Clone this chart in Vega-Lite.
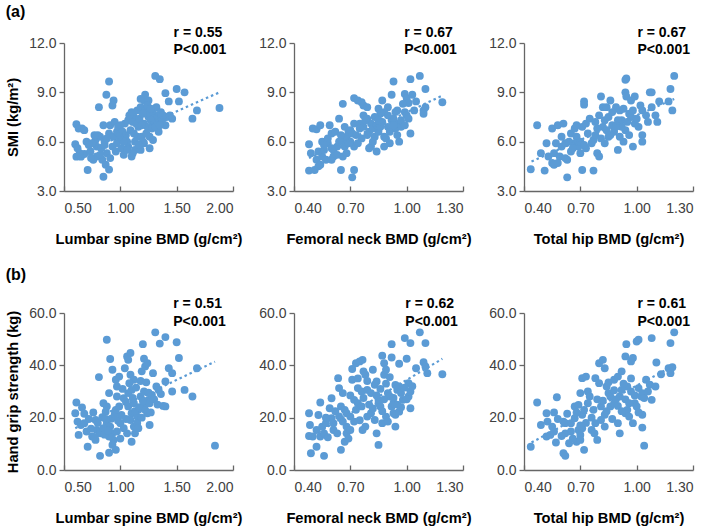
{
"$schema": "https://vega.github.io/schema/vega-lite/v6.json",
"padding": {"left": 5, "top": 3, "right": 2, "bottom": 2},
"config": {
 "font": "Liberation Sans",
 "view": {"stroke": null},
 "axis": {"grid": false, "labelFont": "Liberation Sans", "labelFontSize": 14, "labelColor": "#404040", "titleFont": "Liberation Sans", "titleFontSize": 14.7, "titleFontWeight": "bold", "titleColor": "#000000", "domainColor": "#666666", "domainWidth": 1.3, "tickColor": "#666666", "tickWidth": 1.3},
 "axisX": {"tickSize": -5, "labelPadding": 15, "titlePadding": 16},
 "axisY": {"tickSize": 5, "labelPadding": 3, "titlePadding": 8},
 "title": {"font": "Liberation Sans", "fontSize": 16, "fontWeight": "bold", "anchor": "start", "frame": "bounds", "offset": 4, "color": "#000000"},
 "circle": {"size": 62, "opacity": 1, "color": "#5B9BD5"},
 "line": {"strokeDash": [2.5, 3], "strokeWidth": 2.2, "color": "#5B9BD5"},
 "text": {"align": "left", "baseline": "middle", "fontWeight": "bold", "fontSize": 14, "font": "Liberation Sans", "color": "#000000"}
},
"datasets": {
 "p1": [{"x":0.61,"y":7.06},{"x":0.63,"y":6.8},{"x":0.66,"y":6.8},{"x":0.60,"y":5.84},{"x":0.61,"y":5.09},{"x":0.65,"y":5.09},{"x":0.68,"y":5.25},{"x":0.71,"y":4.28},{"x":0.70,"y":6.0},{"x":0.735,"y":5.4},{"x":0.76,"y":4.9},{"x":0.79,"y":5.1},{"x":0.78,"y":6.1},{"x":0.82,"y":6.3},{"x":0.79,"y":5.7},{"x":0.84,"y":4.9},{"x":0.85,"y":3.87},{"x":0.87,"y":4.6},{"x":0.90,"y":4.3},{"x":0.876,"y":8.85},{"x":0.90,"y":9.66},{"x":0.94,"y":8.5},{"x":0.93,"y":8.2},{"x":0.81,"y":8.1},{"x":0.85,"y":7.0},{"x":0.91,"y":7.0},{"x":0.90,"y":6.5},{"x":0.94,"y":6.3},{"x":0.97,"y":6.6},{"x":0.93,"y":5.7},{"x":0.97,"y":5.9},{"x":0.88,"y":5.3},{"x":0.91,"y":5.0},{"x":1.01,"y":5.6},{"x":1.01,"y":6.2},{"x":1.03,"y":5.2},{"x":1.07,"y":5.7},{"x":1.10,"y":5.1},{"x":1.04,"y":7.1},{"x":1.07,"y":7.3},{"x":1.09,"y":6.7},{"x":1.12,"y":7.5},{"x":1.15,"y":7.9},{"x":1.18,"y":8.1},{"x":1.12,"y":6.5},{"x":1.15,"y":6.3},{"x":1.16,"y":6.9},{"x":1.19,"y":6.3},{"x":1.21,"y":5.9},{"x":1.18,"y":5.5},{"x":1.13,"y":5.5},{"x":1.21,"y":8.5},{"x":1.22,"y":8.85},{"x":1.25,"y":8.5},{"x":1.22,"y":7.9},{"x":1.25,"y":7.5},{"x":1.26,"y":7.7},{"x":1.21,"y":7.1},{"x":1.24,"y":6.9},{"x":1.29,"y":7.1},{"x":1.26,"y":6.3},{"x":1.29,"y":6.1},{"x":1.26,"y":5.6},{"x":1.31,"y":10.0},{"x":1.35,"y":9.8},{"x":1.32,"y":8.1},{"x":1.29,"y":7.8},{"x":1.34,"y":7.6},{"x":1.34,"y":6.6},{"x":1.40,"y":8.95},{"x":1.43,"y":8.45},{"x":1.41,"y":7.5},{"x":1.40,"y":7.0},{"x":1.46,"y":7.4},{"x":1.50,"y":9.2},{"x":1.52,"y":8.45},{"x":1.57,"y":9.0},{"x":1.64,"y":7.4},{"x":1.68,"y":7.9},{"x":1.88,"y":8.05},{"x":0.68,"y":6.7},{"x":0.75,"y":5.9},{"x":0.80,"y":6.4},{"x":0.83,"y":5.6},{"x":0.86,"y":6.0},{"x":0.88,"y":6.2},{"x":0.95,"y":7.2},{"x":0.98,"y":6.9},{"x":1.00,"y":7.0},{"x":1.02,"y":6.6},{"x":1.05,"y":6.4},{"x":1.06,"y":6.0},{"x":1.08,"y":7.6},{"x":1.10,"y":7.8},{"x":1.11,"y":7.2},{"x":1.13,"y":6.0},{"x":1.14,"y":7.1},{"x":1.17,"y":7.4},{"x":1.18,"y":8.6},{"x":1.20,"y":7.7},{"x":1.23,"y":6.5},{"x":1.24,"y":8.2},{"x":1.27,"y":8.0},{"x":1.28,"y":6.8},{"x":1.30,"y":7.4},{"x":1.31,"y":6.9},{"x":1.33,"y":7.2},{"x":1.36,"y":7.8},{"x":1.37,"y":7.3},{"x":1.20,"y":6.0},{"x":1.16,"y":5.8},{"x":1.03,"y":6.0},{"x":0.96,"y":5.4},{"x":0.86,"y":5.8},{"x":0.77,"y":6.4},{"x":0.72,"y":5.8},{"x":0.64,"y":5.3},{"x":0.62,"y":5.6},{"x":0.74,"y":5.0},{"x":0.82,"y":5.2},{"x":1.11,"y":5.3},{"x":1.06,"y":5.5},{"x":0.99,"y":6.3},{"x":1.27,"y":7.3},{"x":1.19,"y":7.0},{"x":1.35,"y":7.0},{"x":1.44,"y":7.6},{"x":1.38,"y":7.6}],
 "p2": [{"x":0.48,"y":4.24},{"x":0.48,"y":5.84},{"x":0.49,"y":5.3},{"x":0.50,"y":6.8},{"x":0.52,"y":6.75},{"x":0.54,"y":7.0},{"x":0.51,"y":4.28},{"x":0.53,"y":4.5},{"x":0.52,"y":4.9},{"x":0.55,"y":5.1},{"x":0.57,"y":4.9},{"x":0.53,"y":5.4},{"x":0.56,"y":5.5},{"x":0.55,"y":6.0},{"x":0.58,"y":5.9},{"x":0.60,"y":6.5},{"x":0.59,"y":7.0},{"x":0.60,"y":4.9},{"x":0.61,"y":5.1},{"x":0.61,"y":5.5},{"x":0.63,"y":5.7},{"x":0.64,"y":7.4},{"x":0.66,"y":8.3},{"x":0.65,"y":4.28},{"x":0.66,"y":5.1},{"x":0.68,"y":5.3},{"x":0.66,"y":6.1},{"x":0.68,"y":6.3},{"x":0.67,"y":5.7},{"x":0.67,"y":6.9},{"x":0.69,"y":6.6},{"x":0.71,"y":3.83},{"x":0.72,"y":4.28},{"x":0.72,"y":5.7},{"x":0.71,"y":6.5},{"x":0.72,"y":7.1},{"x":0.75,"y":7.1},{"x":0.72,"y":8.65},{"x":0.74,"y":8.5},{"x":0.76,"y":8.4},{"x":0.77,"y":8.2},{"x":0.79,"y":8.1},{"x":0.77,"y":7.6},{"x":0.79,"y":7.4},{"x":0.77,"y":6.9},{"x":0.80,"y":6.6},{"x":0.81,"y":7.1},{"x":0.81,"y":5.7},{"x":0.84,"y":5.4},{"x":0.83,"y":6.3},{"x":0.85,"y":6.6},{"x":0.85,"y":8.0},{"x":0.86,"y":7.7},{"x":0.87,"y":8.5},{"x":0.88,"y":6.3},{"x":0.88,"y":5.7},{"x":0.90,"y":6.9},{"x":0.92,"y":7.3},{"x":0.91,"y":6.6},{"x":0.92,"y":8.85},{"x":0.90,"y":8.1},{"x":0.93,"y":9.66},{"x":0.93,"y":7.4},{"x":0.94,"y":6.8},{"x":0.95,"y":7.9},{"x":0.96,"y":7.1},{"x":0.97,"y":6.9},{"x":0.96,"y":6.0},{"x":0.99,"y":8.9},{"x":1.00,"y":8.65},{"x":0.99,"y":7.8},{"x":1.00,"y":7.6},{"x":1.01,"y":7.4},{"x":1.02,"y":9.8},{"x":1.02,"y":6.5},{"x":1.01,"y":8.35},{"x":1.03,"y":8.85},{"x":1.05,"y":8.45},{"x":1.07,"y":10.0},{"x":1.09,"y":7.9},{"x":1.10,"y":8.1},{"x":1.10,"y":9.2},{"x":1.09,"y":7.7},{"x":1.19,"y":8.4},{"x":0.58,"y":6.2},{"x":0.62,"y":6.6},{"x":0.64,"y":6.0},{"x":0.70,"y":6.0},{"x":0.73,"y":6.4},{"x":0.74,"y":5.9},{"x":0.76,"y":6.2},{"x":0.78,"y":7.3},{"x":0.79,"y":6.4},{"x":0.82,"y":6.8},{"x":0.83,"y":7.5},{"x":0.84,"y":7.0},{"x":0.86,"y":6.9},{"x":0.87,"y":7.2},{"x":0.88,"y":7.8},{"x":0.89,"y":6.2},{"x":0.90,"y":7.6},{"x":0.91,"y":5.9},{"x":0.92,"y":6.9},{"x":0.94,"y":7.8},{"x":0.95,"y":6.4},{"x":0.97,"y":7.3},{"x":0.98,"y":8.3},{"x":0.99,"y":7.0},{"x":0.82,"y":6.0},{"x":0.80,"y":5.6},{"x":0.75,"y":6.8},{"x":0.69,"y":5.9},{"x":0.63,"y":5.2},{"x":0.56,"y":5.8},{"x":0.54,"y":4.6},{"x":0.60,"y":5.6},{"x":0.65,"y":6.4},{"x":0.70,"y":6.7},{"x":0.85,"y":7.3},{"x":0.93,"y":7.0},{"x":1.04,"y":7.9}],
 "p3": [{"x":0.436,"y":4.32},{"x":0.47,"y":7.0},{"x":0.49,"y":5.3},{"x":0.52,"y":5.9},{"x":0.51,"y":4.24},{"x":0.53,"y":5.1},{"x":0.55,"y":4.7},{"x":0.56,"y":4.6},{"x":0.55,"y":6.8},{"x":0.58,"y":7.0},{"x":0.61,"y":7.1},{"x":0.56,"y":5.3},{"x":0.59,"y":5.1},{"x":0.60,"y":5.7},{"x":0.62,"y":5.9},{"x":0.63,"y":3.83},{"x":0.63,"y":4.9},{"x":0.65,"y":5.4},{"x":0.65,"y":6.5},{"x":0.67,"y":6.8},{"x":0.68,"y":6.3},{"x":0.67,"y":5.9},{"x":0.69,"y":5.7},{"x":0.70,"y":6.0},{"x":0.71,"y":4.28},{"x":0.72,"y":8.45},{"x":0.72,"y":8.25},{"x":0.71,"y":6.9},{"x":0.73,"y":7.1},{"x":0.70,"y":5.3},{"x":0.73,"y":5.6},{"x":0.75,"y":7.4},{"x":0.77,"y":4.24},{"x":0.77,"y":6.1},{"x":0.78,"y":6.4},{"x":0.79,"y":5.3},{"x":0.80,"y":5.1},{"x":0.81,"y":8.75},{"x":0.82,"y":8.1},{"x":0.82,"y":6.9},{"x":0.83,"y":7.3},{"x":0.85,"y":7.5},{"x":0.83,"y":5.9},{"x":0.85,"y":6.3},{"x":0.86,"y":8.5},{"x":0.87,"y":7.0},{"x":0.88,"y":6.6},{"x":0.89,"y":8.1},{"x":0.91,"y":7.9},{"x":0.90,"y":5.5},{"x":0.92,"y":7.3},{"x":0.92,"y":6.9},{"x":0.94,"y":6.7},{"x":0.93,"y":6.0},{"x":0.94,"y":9.76},{"x":0.945,"y":9.84},{"x":0.94,"y":9.0},{"x":0.945,"y":8.75},{"x":0.96,"y":7.7},{"x":0.97,"y":7.5},{"x":0.98,"y":5.7},{"x":0.97,"y":8.5},{"x":0.99,"y":8.75},{"x":0.99,"y":7.1},{"x":1.01,"y":6.9},{"x":1.03,"y":6.4},{"x":1.03,"y":6.0},{"x":1.03,"y":7.9},{"x":1.05,"y":7.6},{"x":1.07,"y":9.0},{"x":1.08,"y":9.0},{"x":1.08,"y":8.1},{"x":1.10,"y":7.6},{"x":1.11,"y":7.2},{"x":1.12,"y":8.45},{"x":1.17,"y":8.45},{"x":1.18,"y":9.2},{"x":1.19,"y":7.9},{"x":1.20,"y":10.0},{"x":0.57,"y":5.9},{"x":0.60,"y":6.3},{"x":0.64,"y":6.0},{"x":0.68,"y":7.0},{"x":0.74,"y":6.5},{"x":0.76,"y":5.9},{"x":0.79,"y":6.8},{"x":0.80,"y":7.6},{"x":0.81,"y":6.2},{"x":0.84,"y":6.7},{"x":0.86,"y":6.4},{"x":0.87,"y":7.8},{"x":0.89,"y":6.9},{"x":0.90,"y":7.3},{"x":0.91,"y":6.3},{"x":0.93,"y":8.0},{"x":0.95,"y":7.2},{"x":0.96,"y":6.4},{"x":0.98,"y":7.9},{"x":1.00,"y":7.4},{"x":1.02,"y":8.2},{"x":1.06,"y":7.2},{"x":0.84,"y":8.1},{"x":0.78,"y":7.2},{"x":0.72,"y":5.8},{"x":0.66,"y":5.6},{"x":0.62,"y":5.0},{"x":0.58,"y":4.7}],
 "p4": [{"x":0.61,"y":25.8},{"x":0.60,"y":21.7},{"x":0.62,"y":18.5},{"x":0.63,"y":13.4},{"x":0.66,"y":23.9},{"x":0.65,"y":17.2},{"x":0.68,"y":17.9},{"x":0.71,"y":8.9},{"x":0.70,"y":14.7},{"x":0.76,"y":22.0},{"x":0.81,"y":35.5},{"x":0.78,"y":19.1},{"x":0.79,"y":15.3},{"x":0.82,"y":14.0},{"x":0.75,"y":12.8},{"x":0.78,"y":11.5},{"x":0.82,"y":5.4},{"x":0.85,"y":25.5},{"x":0.88,"y":24.3},{"x":0.87,"y":22.3},{"x":0.88,"y":49.8},{"x":0.91,"y":42.4},{"x":0.93,"y":38.3},{"x":0.90,"y":29.4},{"x":0.88,"y":17.9},{"x":0.91,"y":16.6},{"x":0.85,"y":16.0},{"x":0.93,"y":14.0},{"x":0.94,"y":11.5},{"x":0.90,"y":12.8},{"x":0.93,"y":9.6},{"x":0.90,"y":6.6},{"x":0.96,"y":7.7},{"x":0.96,"y":34.5},{"x":0.99,"y":35.7},{"x":0.97,"y":31.9},{"x":0.97,"y":28.1},{"x":0.99,"y":24.3},{"x":1.00,"y":17.9},{"x":0.97,"y":14.7},{"x":1.03,"y":16.0},{"x":1.06,"y":14.0},{"x":1.03,"y":27.4},{"x":1.04,"y":38.9},{"x":1.07,"y":42.1},{"x":1.06,"y":43.4},{"x":1.09,"y":44.7},{"x":1.09,"y":36.4},{"x":1.12,"y":34.5},{"x":1.07,"y":24.3},{"x":1.10,"y":21.7},{"x":1.12,"y":25.5},{"x":1.07,"y":29.4},{"x":1.10,"y":30.6},{"x":1.09,"y":19.1},{"x":1.12,"y":16.6},{"x":1.13,"y":14.0},{"x":1.10,"y":10.8},{"x":1.15,"y":20.4},{"x":1.16,"y":23.0},{"x":1.18,"y":28.1},{"x":1.21,"y":30.0},{"x":1.19,"y":37.7},{"x":1.22,"y":39.6},{"x":1.20,"y":48.1},{"x":1.21,"y":42.5},{"x":1.24,"y":40.8},{"x":1.21,"y":24.3},{"x":1.24,"y":21.7},{"x":1.25,"y":26.8},{"x":1.26,"y":25.5},{"x":1.28,"y":28.7},{"x":1.26,"y":17.2},{"x":1.29,"y":37.0},{"x":1.31,"y":52.6},{"x":1.32,"y":31.9},{"x":1.34,"y":30.6},{"x":1.35,"y":48.3},{"x":1.40,"y":50.8},{"x":1.40,"y":33.8},{"x":1.40,"y":24.3},{"x":1.43,"y":38.9},{"x":1.46,"y":37.0},{"x":1.46,"y":30.0},{"x":1.50,"y":48.8},{"x":1.52,"y":42.8},{"x":1.57,"y":30.6},{"x":1.64,"y":28.1},{"x":1.68,"y":38.9},{"x":1.84,"y":9.3},{"x":0.68,"y":21.5},{"x":0.72,"y":19.5},{"x":0.74,"y":15.8},{"x":0.80,"y":18.0},{"x":0.84,"y":20.2},{"x":0.86,"y":13.5},{"x":0.89,"y":15.0},{"x":0.92,"y":19.6},{"x":0.95,"y":21.3},{"x":0.98,"y":18.8},{"x":1.01,"y":21.0},{"x":1.02,"y":31.0},{"x":1.05,"y":26.0},{"x":1.08,"y":33.2},{"x":1.11,"y":27.5},{"x":1.13,"y":22.5},{"x":1.14,"y":31.5},{"x":1.15,"y":18.0},{"x":1.17,"y":24.0},{"x":1.18,"y":34.0},{"x":1.19,"y":20.0},{"x":1.20,"y":26.5},{"x":1.22,"y":23.0},{"x":1.23,"y":33.5},{"x":1.25,"y":29.5},{"x":1.27,"y":22.0},{"x":1.30,"y":27.0},{"x":1.33,"y":25.0},{"x":1.36,"y":29.0},{"x":1.38,"y":24.5},{"x":1.00,"y":12.0},{"x":0.96,"y":23.0},{"x":0.87,"y":19.5},{"x":0.77,"y":12.5},{"x":1.05,"y":19.5},{"x":1.16,"y":16.0}],
 "p5": [{"x":0.48,"y":21.7},{"x":0.485,"y":17.2},{"x":0.48,"y":13.0},{"x":0.50,"y":12.8},{"x":0.49,"y":6.4},{"x":0.52,"y":8.9},{"x":0.54,"y":25.8},{"x":0.52,"y":15.3},{"x":0.55,"y":16.6},{"x":0.57,"y":17.9},{"x":0.54,"y":12.8},{"x":0.56,"y":14.0},{"x":0.56,"y":5.4},{"x":0.59,"y":23.6},{"x":0.60,"y":27.4},{"x":0.60,"y":19.8},{"x":0.61,"y":17.9},{"x":0.61,"y":15.3},{"x":0.63,"y":14.0},{"x":0.635,"y":35.1},{"x":0.64,"y":31.3},{"x":0.65,"y":24.3},{"x":0.67,"y":23.0},{"x":0.65,"y":7.7},{"x":0.67,"y":10.8},{"x":0.66,"y":29.4},{"x":0.68,"y":14.0},{"x":0.68,"y":16.6},{"x":0.70,"y":15.3},{"x":0.68,"y":21.7},{"x":0.70,"y":20.4},{"x":0.71,"y":38.6},{"x":0.71,"y":34.5},{"x":0.72,"y":26.8},{"x":0.74,"y":25.5},{"x":0.73,"y":40.8},{"x":0.75,"y":41.5},{"x":0.765,"y":42.1},{"x":0.74,"y":31.3},{"x":0.76,"y":30.0},{"x":0.76,"y":24.3},{"x":0.765,"y":15.3},{"x":0.78,"y":16.6},{"x":0.77,"y":37.7},{"x":0.78,"y":36.4},{"x":0.79,"y":30.6},{"x":0.81,"y":29.4},{"x":0.82,"y":38.3},{"x":0.79,"y":20.4},{"x":0.81,"y":21.7},{"x":0.83,"y":19.1},{"x":0.83,"y":32.6},{"x":0.84,"y":33.8},{"x":0.84,"y":14.0},{"x":0.85,"y":9.6},{"x":0.85,"y":25.5},{"x":0.86,"y":24.3},{"x":0.85,"y":26.8},{"x":0.87,"y":43.7},{"x":0.88,"y":40.8},{"x":0.88,"y":36.4},{"x":0.89,"y":38.3},{"x":0.87,"y":17.9},{"x":0.89,"y":20.4},{"x":0.90,"y":29.4},{"x":0.91,"y":28.1},{"x":0.92,"y":48.1},{"x":0.92,"y":43.0},{"x":0.92,"y":24.3},{"x":0.93,"y":25.5},{"x":0.93,"y":21.7},{"x":0.94,"y":21.1},{"x":0.94,"y":16.6},{"x":0.95,"y":30.6},{"x":0.96,"y":31.9},{"x":0.97,"y":29.4},{"x":0.98,"y":26.8},{"x":0.96,"y":40.6},{"x":0.96,"y":22.3},{"x":0.99,"y":50.4},{"x":1.00,"y":42.5},{"x":1.01,"y":33.2},{"x":1.01,"y":28.1},{"x":1.02,"y":48.5},{"x":1.02,"y":30.0},{"x":1.02,"y":23.6},{"x":1.05,"y":38.9},{"x":1.07,"y":52.6},{"x":1.10,"y":48.5},{"x":1.09,"y":41.2},{"x":1.10,"y":39.6},{"x":1.11,"y":37.0},{"x":1.19,"y":36.6},{"x":0.53,"y":21.0},{"x":0.58,"y":12.5},{"x":0.62,"y":22.5},{"x":0.66,"y":18.5},{"x":0.69,"y":12.0},{"x":0.72,"y":18.5},{"x":0.73,"y":23.0},{"x":0.75,"y":19.0},{"x":0.77,"y":27.5},{"x":0.80,"y":25.0},{"x":0.82,"y":23.5},{"x":0.84,"y":28.5},{"x":0.86,"y":31.0},{"x":0.87,"y":22.5},{"x":0.88,"y":27.0},{"x":0.89,"y":33.0},{"x":0.90,"y":18.5},{"x":0.91,"y":35.5},{"x":0.93,"y":27.5},{"x":0.94,"y":32.5},{"x":0.95,"y":25.0},{"x":0.97,"y":24.0},{"x":0.99,"y":31.5},{"x":1.00,"y":27.0},{"x":1.03,"y":32.0},{"x":0.79,"y":34.0},{"x":0.74,"y":35.0},{"x":0.70,"y":28.5},{"x":0.64,"y":20.5},{"x":0.57,"y":20.0}],
 "p6": [{"x":0.436,"y":8.9},{"x":0.47,"y":25.8},{"x":0.49,"y":17.2},{"x":0.52,"y":21.7},{"x":0.52,"y":12.8},{"x":0.54,"y":13.4},{"x":0.56,"y":14.7},{"x":0.525,"y":18.5},{"x":0.55,"y":16.6},{"x":0.56,"y":22.0},{"x":0.575,"y":27.8},{"x":0.57,"y":10.5},{"x":0.61,"y":18.5},{"x":0.62,"y":17.9},{"x":0.61,"y":6.4},{"x":0.62,"y":5.4},{"x":0.62,"y":14.0},{"x":0.65,"y":14.7},{"x":0.64,"y":10.2},{"x":0.65,"y":17.9},{"x":0.67,"y":24.3},{"x":0.69,"y":24.9},{"x":0.67,"y":19.8},{"x":0.69,"y":15.3},{"x":0.70,"y":13.4},{"x":0.68,"y":10.8},{"x":0.70,"y":11.5},{"x":0.71,"y":35.1},{"x":0.73,"y":35.7},{"x":0.70,"y":29.4},{"x":0.71,"y":21.1},{"x":0.72,"y":23.0},{"x":0.72,"y":7.7},{"x":0.71,"y":16.0},{"x":0.74,"y":30.0},{"x":0.75,"y":28.1},{"x":0.76,"y":15.3},{"x":0.775,"y":14.0},{"x":0.79,"y":11.5},{"x":0.78,"y":35.1},{"x":0.80,"y":33.2},{"x":0.78,"y":17.9},{"x":0.80,"y":40.8},{"x":0.82,"y":42.1},{"x":0.83,"y":38.9},{"x":0.81,"y":24.3},{"x":0.83,"y":21.1},{"x":0.81,"y":19.1},{"x":0.83,"y":16.6},{"x":0.84,"y":31.9},{"x":0.85,"y":29.4},{"x":0.86,"y":28.1},{"x":0.86,"y":24.3},{"x":0.88,"y":25.5},{"x":0.88,"y":34.5},{"x":0.90,"y":35.7},{"x":0.90,"y":17.9},{"x":0.91,"y":14.0},{"x":0.91,"y":28.1},{"x":0.92,"y":30.6},{"x":0.92,"y":37.7},{"x":0.94,"y":21.7},{"x":0.95,"y":23.0},{"x":0.96,"y":20.4},{"x":0.94,"y":43.4},{"x":0.945,"y":48.1},{"x":0.95,"y":31.9},{"x":0.97,"y":30.0},{"x":0.97,"y":41.5},{"x":0.98,"y":42.8},{"x":0.98,"y":17.9},{"x":0.99,"y":25.5},{"x":1.00,"y":24.3},{"x":1.00,"y":49.1},{"x":1.01,"y":49.8},{"x":1.01,"y":31.3},{"x":1.025,"y":28.1},{"x":1.03,"y":29.4},{"x":1.03,"y":16.2},{"x":1.03,"y":21.1},{"x":1.04,"y":9.3},{"x":1.05,"y":34.5},{"x":1.07,"y":32.6},{"x":1.08,"y":26.8},{"x":1.08,"y":50.4},{"x":1.10,"y":31.9},{"x":1.105,"y":41.1},{"x":1.13,"y":36.6},{"x":1.17,"y":38.9},{"x":1.18,"y":37.0},{"x":1.18,"y":48.5},{"x":1.19,"y":39.3},{"x":1.20,"y":52.6},{"x":0.58,"y":19.5},{"x":0.63,"y":21.5},{"x":0.66,"y":12.0},{"x":0.68,"y":22.0},{"x":0.73,"y":18.0},{"x":0.74,"y":25.5},{"x":0.77,"y":23.0},{"x":0.79,"y":27.0},{"x":0.82,"y":26.5},{"x":0.84,"y":22.5},{"x":0.85,"y":33.5},{"x":0.87,"y":19.5},{"x":0.88,"y":30.5},{"x":0.89,"y":27.0},{"x":0.90,"y":24.5},{"x":0.92,"y":22.5},{"x":0.93,"y":33.0},{"x":0.94,"y":27.0},{"x":0.96,"y":25.5},{"x":0.97,"y":35.0},{"x":0.99,"y":28.5},{"x":1.01,"y":22.0},{"x":1.04,"y":27.5},{"x":1.06,"y":30.0},{"x":0.76,"y":20.0},{"x":0.70,"y":17.0},{"x":0.60,"y":13.0}],
 "t1": [{"x":0.60,"y":5.1},{"x":1.88,"y":9.0}],
 "t2": [{"x":0.48,"y":5.0},{"x":1.19,"y":8.8}],
 "t3": [{"x":0.44,"y":4.8},{"x":1.20,"y":8.6}],
 "t4": [{"x":0.60,"y":16.0},{"x":1.84,"y":41.4}],
 "t5": [{"x":0.48,"y":12.3},{"x":1.19,"y":42.5}],
 "t6": [{"x":0.44,"y":10.5},{"x":1.20,"y":40.0}],
 "a1": [{"x":1.473,"y":12.62,"t":"r = 0.55"},{"x":1.473,"y":11.59,"t":"P<0.001"}],
 "a2": [{"x":0.987,"y":12.62,"t":"r = 0.67"},{"x":0.987,"y":11.59,"t":"P<0.001"}],
 "a3": [{"x":1.004,"y":12.62,"t":"r = 0.67"},{"x":1.004,"y":11.59,"t":"P<0.001"}],
 "a4": [{"x":1.47,"y":63.3,"t":"r = 0.51"},{"x":1.47,"y":56.7,"t":"P<0.001"}],
 "a5": [{"x":0.993,"y":63.3,"t":"r = 0.62"},{"x":0.993,"y":56.7,"t":"P<0.001"}],
 "a6": [{"x":1.004,"y":63.3,"t":"r = 0.61"},{"x":1.004,"y":56.7,"t":"P<0.001"}]
},
"spacing": 21,
"vconcat": [
 {"title": {"text": "(a)", "offset": 6}, "bounds": "flush", "spacing": 61, "hconcat": [
  {"width": 169, "height": 148,
   "encoding": {
    "x": {"field": "x", "type": "quantitative", "scale": {"domain": [0.5, 2.0], "nice": false, "zero": false}, "axis": {"values": [0.5, 1.0, 1.5, 2.0], "format": ".2f", "title": "Lumbar spine BMD (g/cm²)"}},
    "y": {"field": "y", "type": "quantitative", "scale": {"domain": [3, 12], "nice": false, "zero": false}, "axis": {"values": [3, 6, 9, 12], "format": ".1f", "title": "SMI (kg/m²)"}}},
   "layer": [
    {"data": {"name": "p1"}, "mark": "circle"},
    {"data": {"name": "t1"}, "mark": "line"},
    {"data": {"name": "a1"}, "mark": "text", "encoding": {"text": {"field": "t"}}}]},
  {"width": 169, "height": 148,
   "encoding": {
    "x": {"field": "x", "type": "quantitative", "scale": {"domain": [0.4, 1.3], "nice": false, "zero": false}, "axis": {"values": [0.4, 0.7, 1.0, 1.3], "format": ".2f", "title": "Femoral neck BMD (g/cm²)"}},
    "y": {"field": "y", "type": "quantitative", "scale": {"domain": [3, 12], "nice": false, "zero": false}, "axis": {"values": [3, 6, 9, 12], "format": ".1f", "title": null}}},
   "layer": [
    {"data": {"name": "p2"}, "mark": "circle"},
    {"data": {"name": "t2"}, "mark": "line"},
    {"data": {"name": "a2"}, "mark": "text", "encoding": {"text": {"field": "t"}}}]},
  {"width": 169, "height": 148,
   "encoding": {
    "x": {"field": "x", "type": "quantitative", "scale": {"domain": [0.4, 1.3], "nice": false, "zero": false}, "axis": {"values": [0.4, 0.7, 1.0, 1.3], "format": ".2f", "title": "Total hip BMD (g/cm²)"}},
    "y": {"field": "y", "type": "quantitative", "scale": {"domain": [3, 12], "nice": false, "zero": false}, "axis": {"values": [3, 6, 9, 12], "format": ".1f", "title": null}}},
   "layer": [
    {"data": {"name": "p3"}, "mark": "circle"},
    {"data": {"name": "t3"}, "mark": "line"},
    {"data": {"name": "a3"}, "mark": "text", "encoding": {"text": {"field": "t"}}}]}
 ]},
 {"title": {"text": "(b)", "offset": 14}, "bounds": "flush", "spacing": 61, "hconcat": [
  {"width": 169, "height": 157,
   "encoding": {
    "x": {"field": "x", "type": "quantitative", "scale": {"domain": [0.5, 2.0], "nice": false, "zero": false}, "axis": {"values": [0.5, 1.0, 1.5, 2.0], "format": ".2f", "title": "Lumbar spine BMD (g/cm²)"}},
    "y": {"field": "y", "type": "quantitative", "scale": {"domain": [0, 60], "nice": false, "zero": false}, "axis": {"values": [0, 20, 40, 60], "format": ".1f", "title": "Hand grip strength (kg)"}}},
   "layer": [
    {"data": {"name": "p4"}, "mark": "circle"},
    {"data": {"name": "t4"}, "mark": "line"},
    {"data": {"name": "a4"}, "mark": "text", "encoding": {"text": {"field": "t"}}}]},
  {"width": 169, "height": 157,
   "encoding": {
    "x": {"field": "x", "type": "quantitative", "scale": {"domain": [0.4, 1.3], "nice": false, "zero": false}, "axis": {"values": [0.4, 0.7, 1.0, 1.3], "format": ".2f", "title": "Femoral neck BMD (g/cm²)"}},
    "y": {"field": "y", "type": "quantitative", "scale": {"domain": [0, 60], "nice": false, "zero": false}, "axis": {"values": [0, 20, 40, 60], "format": ".1f", "title": null}}},
   "layer": [
    {"data": {"name": "p5"}, "mark": "circle"},
    {"data": {"name": "t5"}, "mark": "line"},
    {"data": {"name": "a5"}, "mark": "text", "encoding": {"text": {"field": "t"}}}]},
  {"width": 169, "height": 157,
   "encoding": {
    "x": {"field": "x", "type": "quantitative", "scale": {"domain": [0.4, 1.3], "nice": false, "zero": false}, "axis": {"values": [0.4, 0.7, 1.0, 1.3], "format": ".2f", "title": "Total hip BMD (g/cm²)"}},
    "y": {"field": "y", "type": "quantitative", "scale": {"domain": [0, 60], "nice": false, "zero": false}, "axis": {"values": [0, 20, 40, 60], "format": ".1f", "title": null}}},
   "layer": [
    {"data": {"name": "p6"}, "mark": "circle"},
    {"data": {"name": "t6"}, "mark": "line"},
    {"data": {"name": "a6"}, "mark": "text", "encoding": {"text": {"field": "t"}}}]}
 ]}
]
}
